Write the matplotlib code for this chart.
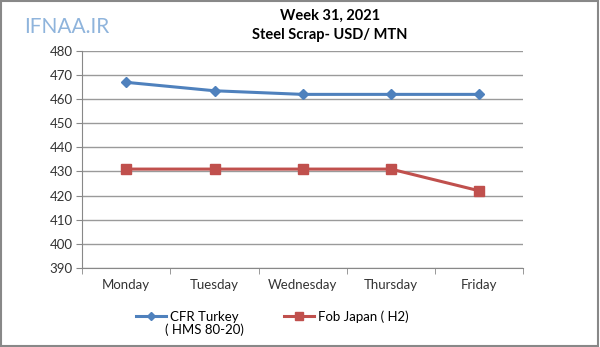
import matplotlib
matplotlib.use("Agg")
import matplotlib.pyplot as plt
from matplotlib.patches import Rectangle

plt.rcParams['font.family'] = ['Lato', 'DejaVu Sans']

days = ["Monday", "Tuesday", "Wednesday", "Thursday", "Friday"]
turkey = [467, 463.5, 462, 462, 462]
japan = [431, 431, 431, 431, 422]
yticks = list(range(390, 481, 10))

fig = plt.figure(figsize=(6, 3.47), dpi=100)
ax = fig.add_axes([0.137, 0.228, 0.735, 0.625])

x = [i + 0.5 for i in range(len(days))]
ax.plot(x, turkey, color="#4F81BD", lw=2.2, marker="D", ms=5.5, label="CFR Turkey")
ax.plot(x, japan, color="#C0504D", lw=2.2, marker="s", ms=7, label="Fob Japan ( H2)")

ax.set_xlim(0, 5)
ax.set_ylim(390, 480)
ax.set_yticks(yticks)
ax.set_xticks(x)
ax.set_xticklabels(days)
ax.set_xticks(range(6), minor=True)
ax.tick_params(axis="x", which="major", length=0, pad=8)
ax.tick_params(axis="x", which="minor", length=4, color="#888888")
ax.tick_params(axis="y", length=4, color="#888888", pad=3)
ax.tick_params(labelsize=9.5, labelcolor="#333333")
ax.grid(axis="y", color="#9a9a9a", lw=1)
ax.set_axisbelow(True)
for s in ["top", "right"]:
    ax.spines[s].set_visible(False)
ax.spines["left"].set_color("#888888")
ax.spines["bottom"].set_color("#888888")

fig.text(0.55, 0.955, "Week 31, 2021", ha="center", va="center", fontsize=10.5, fontweight="bold")
fig.text(0.55, 0.9, "Steel Scrap- USD/ MTN", ha="center", va="center", fontsize=10.5, fontweight="bold")
fig.text(0.04, 0.922, "IFNAA.IR", ha="left", va="center", fontsize=15, color="#8fb4dc")

fig.legend(loc="upper left", bbox_to_anchor=(0.207, 0.14), ncol=2, frameon=False,
           fontsize=9.5, handlelength=2.3, columnspacing=3.4, handletextpad=0.3,
           markerscale=0.8)
fig.text(0.275, 1 - 330 / 347, "( HMS 80-20)", ha="left", va="center", fontsize=9.5)

fig.patches.append(Rectangle((0.002, 0.003), 0.995, 0.994, transform=fig.transFigure,
                             fill=False, edgecolor="#888888", lw=1.5))

fig.savefig("out.png", dpi=100)
